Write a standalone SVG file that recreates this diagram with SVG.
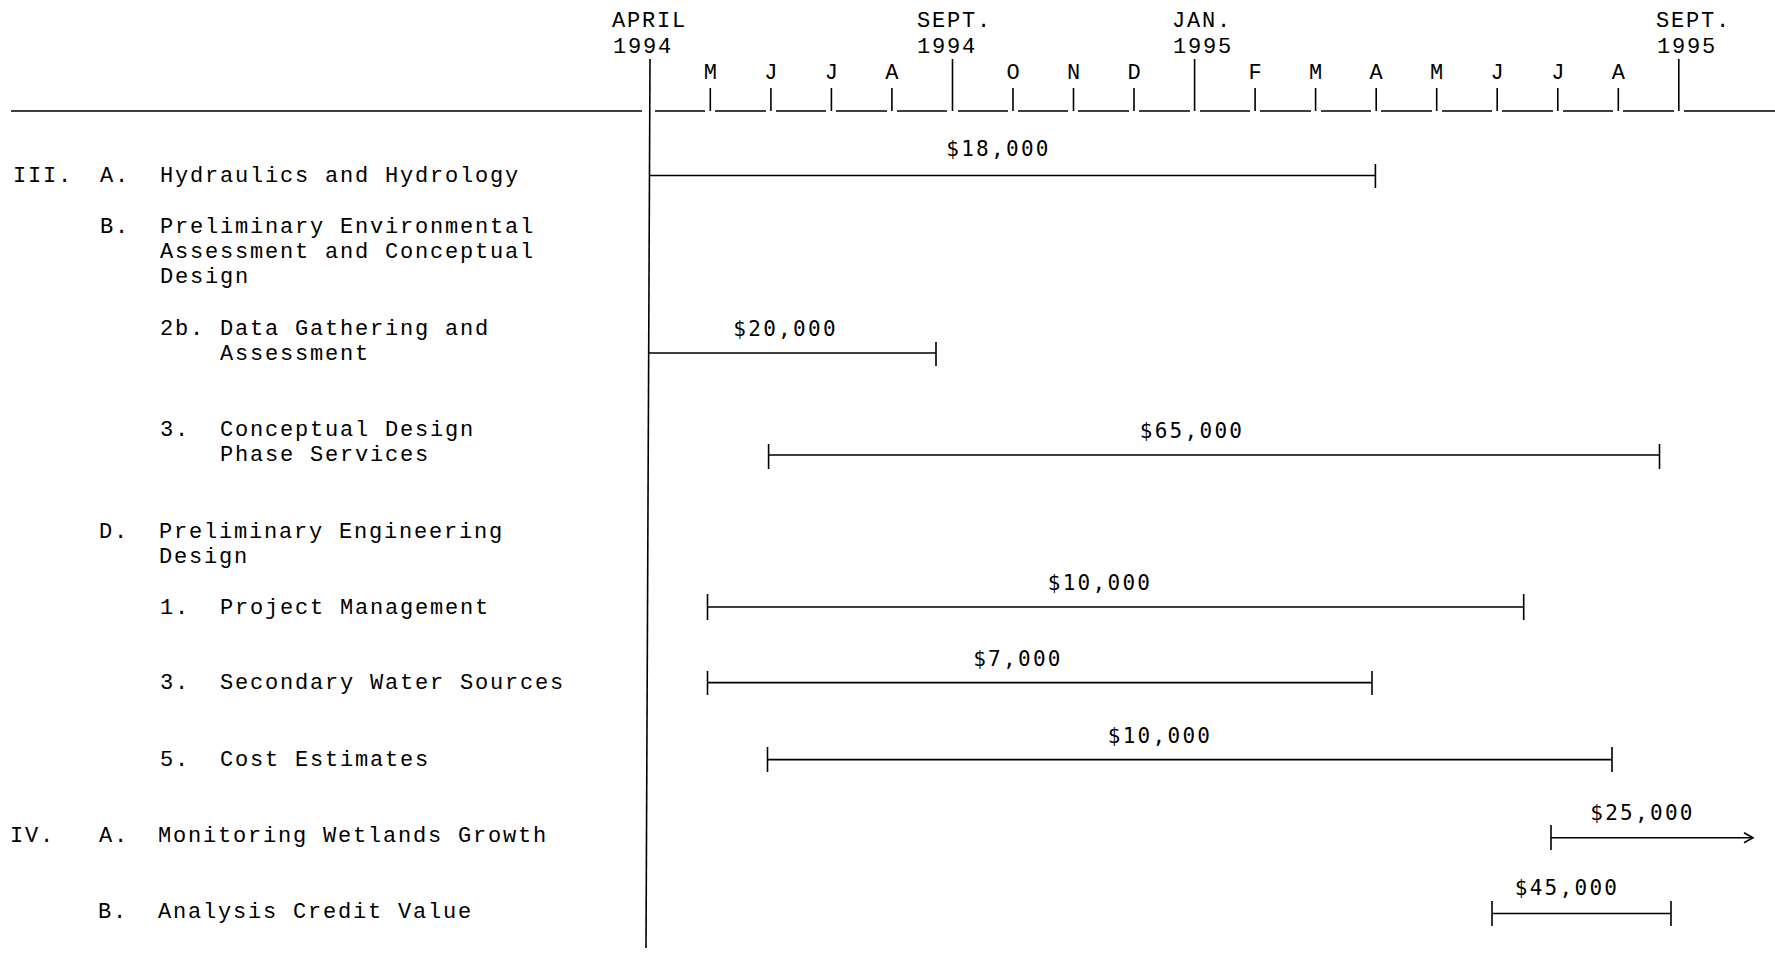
<svg xmlns="http://www.w3.org/2000/svg" width="1775" height="953" viewBox="0 0 1775 953">
<defs>
<style>
.t{font-family:"Liberation Mono","Courier New",monospace;font-size:22px;letter-spacing:1.8px;fill:#000}
.h{font-family:"Liberation Mono","Courier New",monospace;font-size:22px;letter-spacing:1.8px;fill:#000}
.m{font-family:"Liberation Mono","Courier New",monospace;font-size:22px;fill:#000;text-anchor:middle}
.amt{font-family:"DejaVu Sans Mono",monospace;font-size:21px;letter-spacing:2.3px;fill:#000;text-anchor:middle}
.ln{stroke:#000;stroke-width:1.6;fill:none}
</style>
<marker id="chev" markerWidth="12" markerHeight="12" refX="10" refY="6" orient="auto" markerUnits="userSpaceOnUse">
<path d="M1,1 L10,6 L1,11" fill="none" stroke="#000" stroke-width="1.6"/>
</marker>
</defs>
<rect width="1775" height="953" fill="#fff"/>

<g id="axis">
<text class="h" x="612" y="27">APRIL</text>
<text class="h" x="613" y="53">1994</text>
<text class="h" x="917" y="27">SEPT.</text>
<text class="h" x="917" y="53">1994</text>
<text class="h" x="1172" y="27">JAN.</text>
<text class="h" x="1173" y="53">1995</text>
<text class="h" x="1656" y="27">SEPT.</text>
<text class="h" x="1657" y="53">1995</text>
<text class="m" x="710.3" y="79">M</text>
<text class="m" x="770.9" y="79">J</text>
<text class="m" x="831.4" y="79">J</text>
<text class="m" x="891.9" y="79">A</text>
<text class="m" x="1013.0" y="79">O</text>
<text class="m" x="1073.5" y="79">N</text>
<text class="m" x="1134.0" y="79">D</text>
<text class="m" x="1255.1" y="79">F</text>
<text class="m" x="1315.6" y="79">M</text>
<text class="m" x="1376.2" y="79">A</text>
<text class="m" x="1436.7" y="79">M</text>
<text class="m" x="1497.2" y="79">J</text>
<text class="m" x="1557.8" y="79">J</text>
<text class="m" x="1618.3" y="79">A</text>
<path class="ln" d="M11,111 H642 M655,111 H705 M715,111 H766 M776,111 H826 M836,111 H887 M897,111 H947 M958,111 H1008 M1018,111 H1068 M1078,111 H1129 M1139,111 H1190 M1200,111 H1250 M1260,111 H1311 M1321,111 H1371 M1381,111 H1432 M1442,111 H1492 M1502,111 H1553 M1563,111 H1613 M1623,111 H1674 M1684,111 H1775"/>
<path class="ln" d="M650,59 L646,948"/>
<path class="ln" d="M952.5,59 V111 M1194.6,59 V111 M1678.8,59 V111"/>
<path class="ln" d="M710.3,88 V111 M770.9,88 V111 M831.4,88 V111 M891.9,88 V111 M1013,88 V111 M1073.5,88 V111 M1134,88 V111 M1255.1,88 V111 M1315.6,88 V111 M1376.2,88 V111 M1436.7,88 V111 M1497.2,88 V111 M1557.8,88 V111 M1618.3,88 V111"/>
</g>

<g id="task-III-A">
<text class="t" x="13" y="182">III.</text>
<text class="t" x="100" y="182">A.</text>
<text class="t" x="160" y="182">Hydraulics and Hydrology</text>
</g>
<g id="task-III-B">
<text class="t" x="100" y="233">B.</text>
<text class="t" x="160" y="233">Preliminary Environmental</text>
<text class="t" x="160" y="258">Assessment and Conceptual</text>
<text class="t" x="160" y="283">Design</text>
</g>
<g id="task-2b">
<text class="t" x="160" y="335">2b.</text>
<text class="t" x="220" y="335">Data Gathering and</text>
<text class="t" x="220" y="360">Assessment</text>
</g>
<g id="task-3-conceptual">
<text class="t" x="160" y="436">3.</text>
<text class="t" x="220" y="436">Conceptual Design</text>
<text class="t" x="220" y="461">Phase Services</text>
</g>
<g id="task-D">
<text class="t" x="99" y="538">D.</text>
<text class="t" x="159" y="538">Preliminary Engineering</text>
<text class="t" x="159" y="563">Design</text>
</g>
<g id="task-1-pm">
<text class="t" x="160" y="614">1.</text>
<text class="t" x="220" y="614">Project Management</text>
</g>
<g id="task-3-water">
<text class="t" x="160" y="689">3.</text>
<text class="t" x="220" y="689">Secondary Water Sources</text>
</g>
<g id="task-5-cost">
<text class="t" x="160" y="766">5.</text>
<text class="t" x="220" y="766">Cost Estimates</text>
</g>
<g id="task-IV-A">
<text class="t" x="10" y="842">IV.</text>
<text class="t" x="99" y="842">A.</text>
<text class="t" x="158" y="842">Monitoring Wetlands Growth</text>
</g>
<g id="task-IV-B">
<text class="t" x="98" y="918">B.</text>
<text class="t" x="158" y="918">Analysis Credit Value</text>
</g>

<g id="bars">
<path class="ln" d="M650,175.5 H1375.4 M1375.4,164 V188"/>
<text class="amt" x="998.5" y="156">$18,000</text>
<path class="ln" d="M648,353 H936 M936,342 V366"/>
<text class="amt" x="785.6" y="336">$20,000</text>
<path class="ln" d="M768.6,455 H1659.5 M768.6,444 V469 M1659.5,444 V469"/>
<text class="amt" x="1192" y="438">$65,000</text>
<path class="ln" d="M707.5,607 H1523.7 M707.5,594 V620 M1523.7,594 V620"/>
<text class="amt" x="1100" y="590">$10,000</text>
<path class="ln" d="M707.5,682.6 H1372 M707.5,671 V695 M1372,671 V695"/>
<text class="amt" x="1018" y="665.6">$7,000</text>
<path class="ln" d="M767.5,759.6 H1612 M767.5,747 V772 M1612,747 V772"/>
<text class="amt" x="1160" y="742.6">$10,000</text>
<path class="ln" d="M1551,825 V850"/>
<path class="ln" d="M1551,837.7 H1753" marker-end="url(#chev)"/>
<text class="amt" x="1642.5" y="819.6">$25,000</text>
<path class="ln" d="M1492,913.5 H1671 M1492,901 V926 M1671,901 V926"/>
<text class="amt" x="1567" y="895">$45,000</text>
</g>
</svg>
